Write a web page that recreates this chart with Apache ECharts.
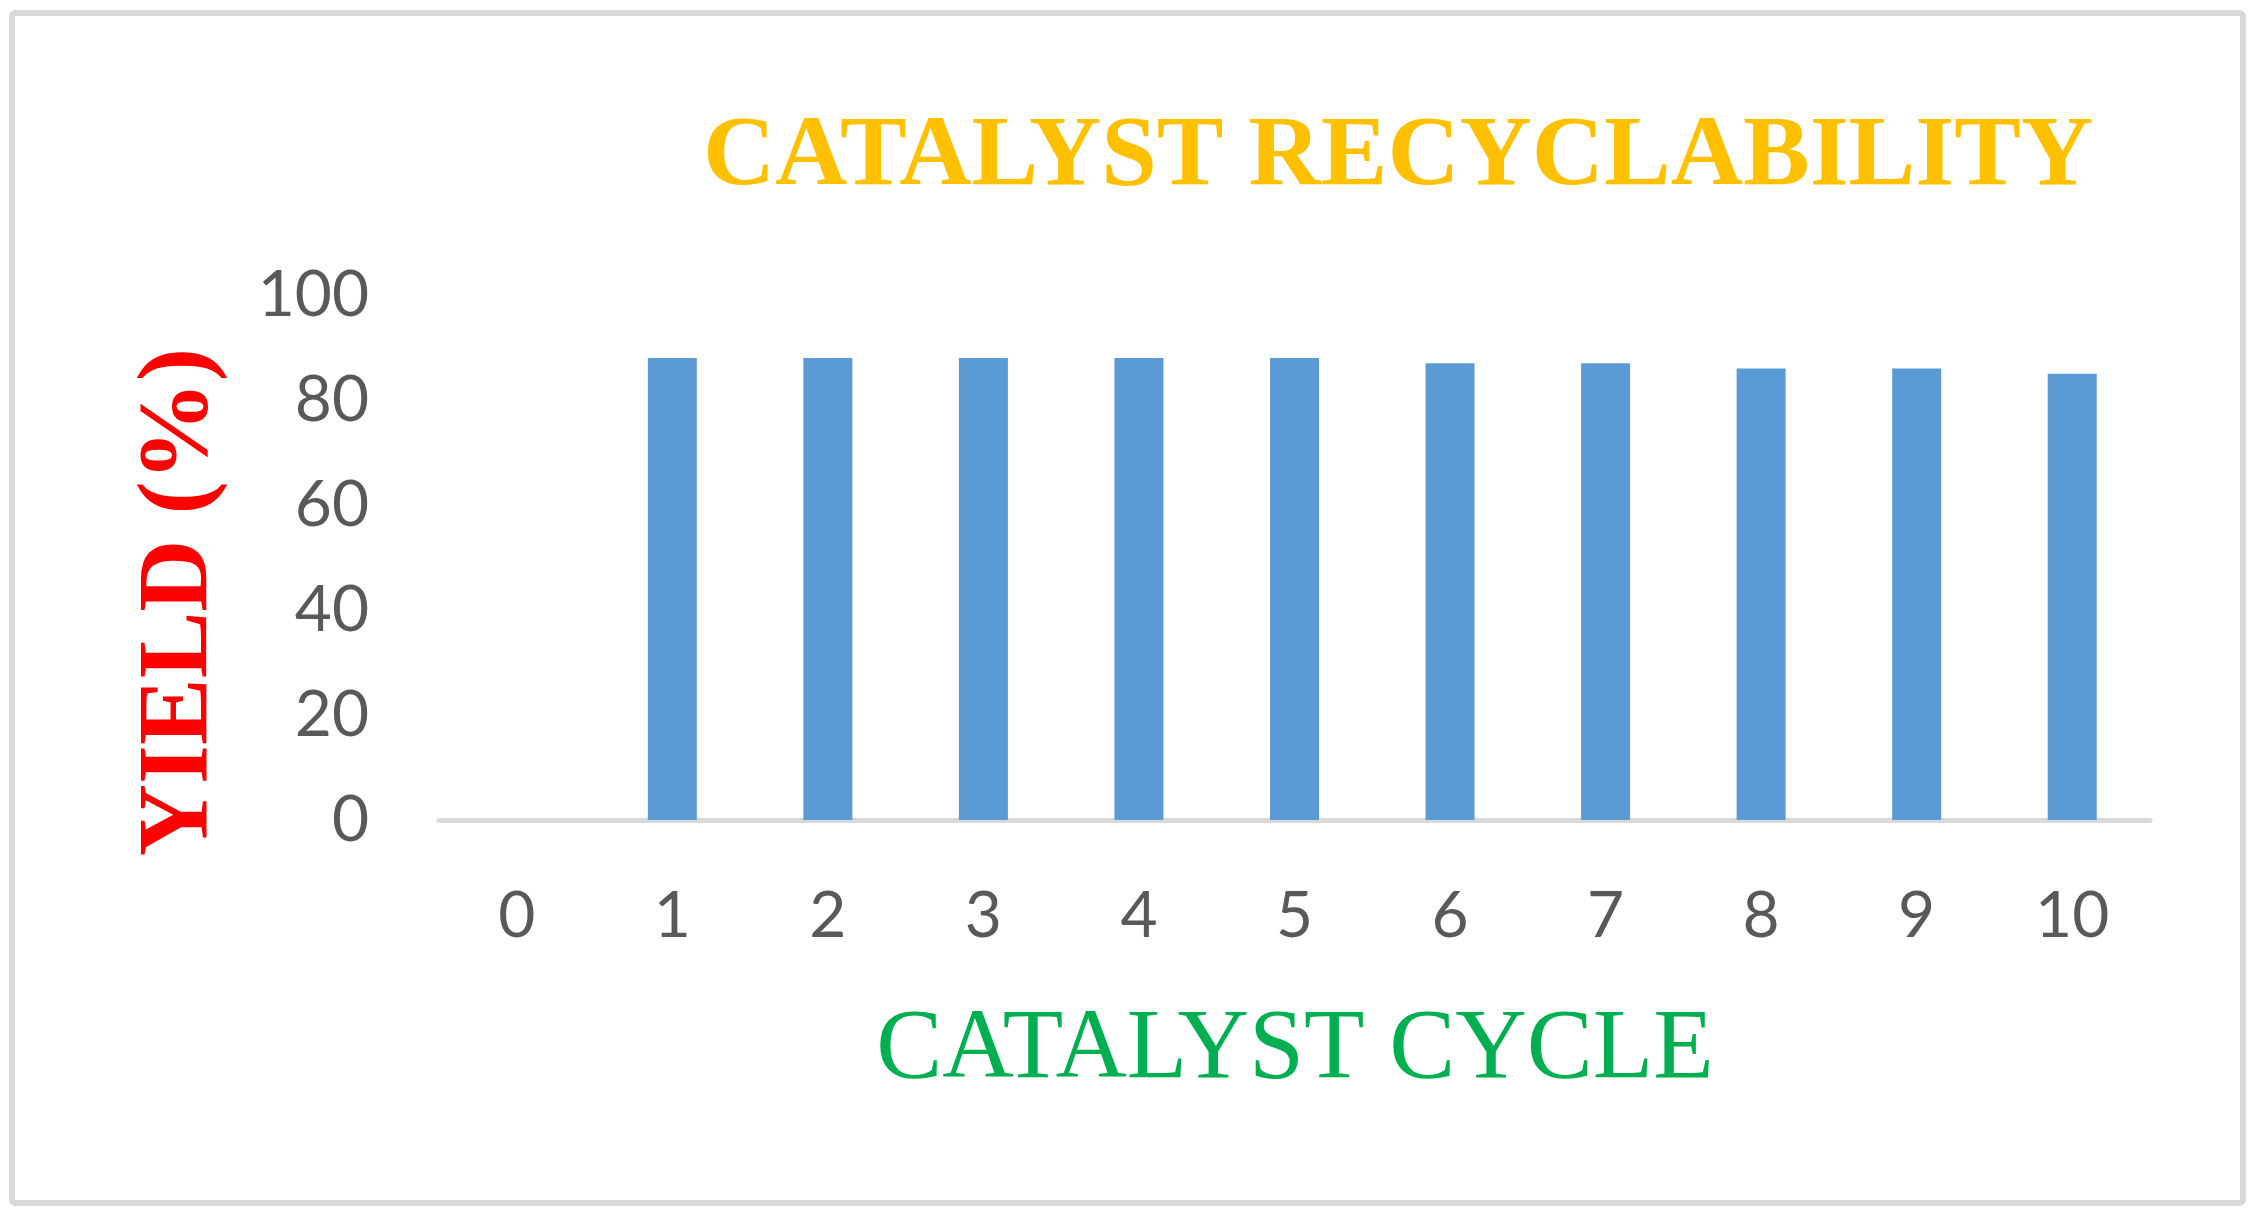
<!DOCTYPE html>
<html>
<head>
<meta charset="utf-8">
<title>Catalyst recyclability</title>
<script src="https://cdn.jsdelivr.net/npm/echarts@6/dist/echarts.min.js"></script>
<style>
  html, body { margin: 0; padding: 0; background: #fff; }
  #chart { width: 2258px; height: 1218px; }
</style>
</head>
<body>
<div id="chart"></div>
<script>
// catalyst cycle number
const cycles = ['0', '1', '2', '3', '4', '5', '6', '7', '8', '9', '10']
// yield (%) per cycle
const yields = [0, 88, 88, 88, 88, 88, 87, 87, 86, 86, 85]
// y ticks
const yMin = 0
const yMax = 100
const yStep = 20

const chart = echarts.init(document.getElementById('chart'))

const option = {
  backgroundColor: '#ffffff',
  animation: false,
  grid: {
    left: 439,
    right: 108,
    top: 295,
    bottom: 398
  },
  graphic: [
    {
      // outer frame
      type: 'rect',
      shape: { x: 12, y: 13, width: 2231, height: 1190, r: 3 },
      style: { fill: 'none', stroke: '#d9d9d9', lineWidth: 6 },
      silent: true
    },
    {
      type: 'text',
      x: 1398,
      y: 158,
      style: {
        text: 'CATALYST RECYCLABILITY',
        fill: '#FFC000',
        font: 'bold 100px "Liberation Serif", "Times New Roman", serif',
        textAlign: 'center',
        textVerticalAlign: 'middle'
      }
    },
    {
      type: 'text',
      x: 1295,
      y: 1051,
      style: {
        text: 'CATALYST CYCLE',
        fill: '#00B050',
        font: '99px "Liberation Serif", "Times New Roman", serif',
        textAlign: 'center',
        textVerticalAlign: 'middle'
      }
    },
    {
      type: 'text',
      x: 180,
      y: 602,
      rotation: Math.PI / 2,
      style: {
        text: 'YIELD (%)',
        fill: '#FF0000',
        font: 'bold 100px "Liberation Serif", "Times New Roman", serif',
        textAlign: 'center',
        textVerticalAlign: 'middle'
      }
    }
  ],
  xAxis: {
    type: 'category',
    data: cycles,
    boundaryGap: true,
    axisLine: { show: true, lineStyle: { color: '#d9d9d9', width: 5 } },
    axisTick: { show: false },
    axisLabel: {
      color: '#595959',
      fontFamily: 'Lato',
      fontSize: 64,
      margin: 64
    }
  },
  yAxis: {
    type: 'value',
    min: yMin,
    max: yMax,
    interval: yStep,
    axisLine: { show: false },
    axisTick: { show: false },
    splitLine: { show: false },
    axisLabel: {
      color: '#595959',
      fontFamily: 'Lato',
      fontSize: 64,
      margin: 70
    }
  },
  series: [{
    name: 'Yield',
    type: 'bar',
    data: yields,
    barWidth: 49,
    itemStyle: { color: '#5B9BD5' }
  }]
}

chart.setOption(option)
</script>
</body>
</html>
